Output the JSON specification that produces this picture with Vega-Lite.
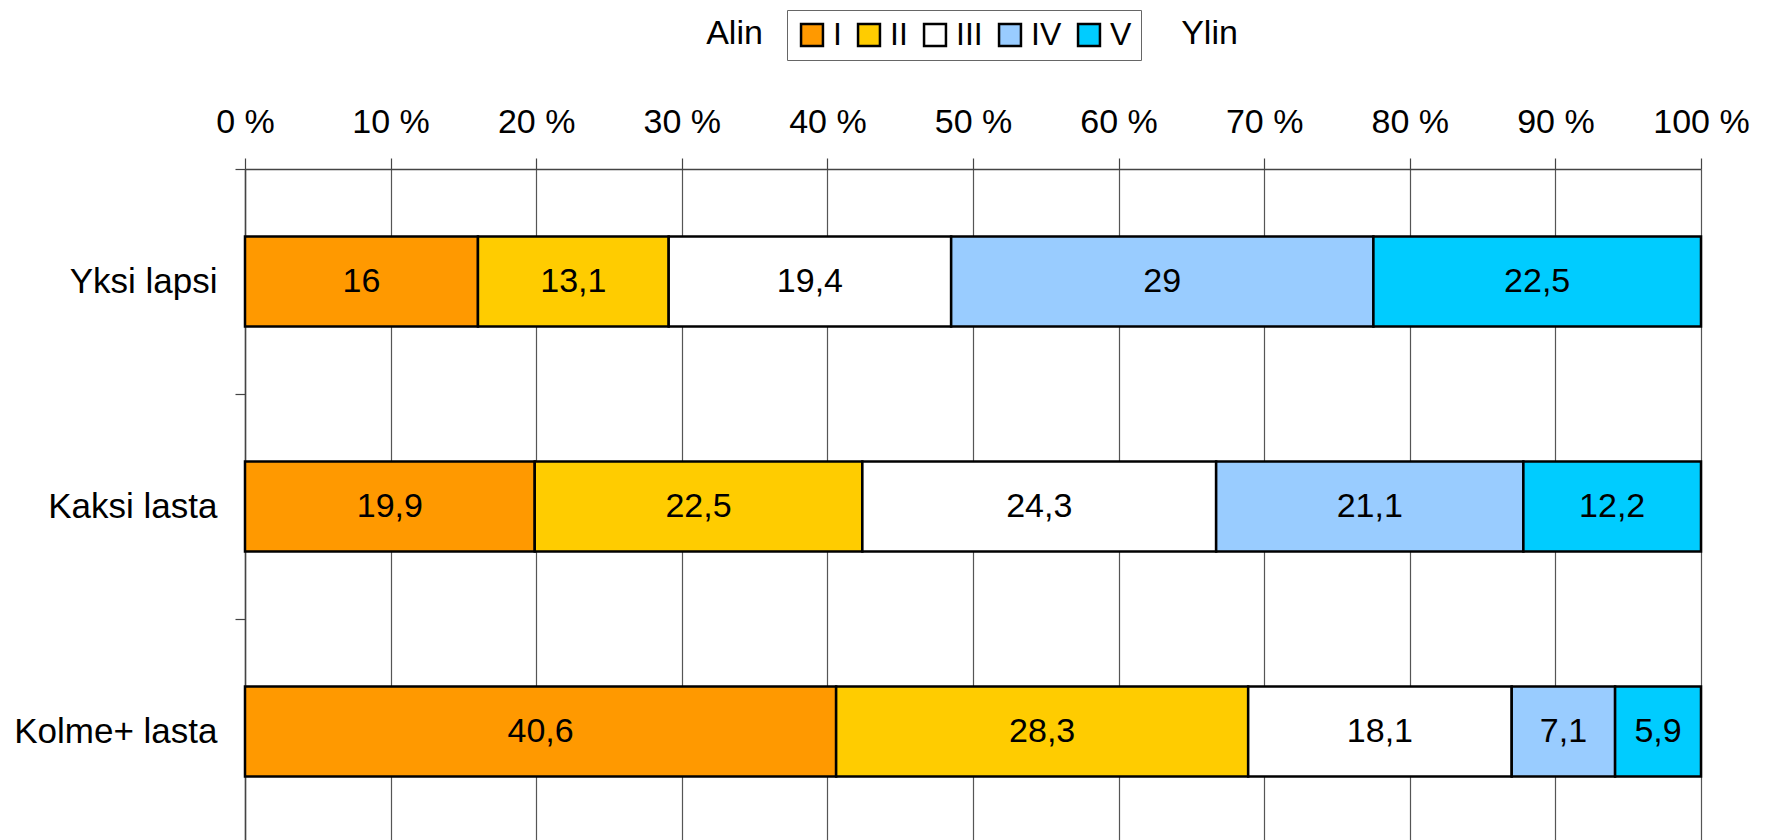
{
  "$schema": "https://vega.github.io/schema/vega-lite/v6.json",
  "width": 1456,
  "height": 675,
  "autosize": {"type": "none"},
  "padding": {"left": 245, "top": 169, "right": 64, "bottom": 0},
  "background": "white",
  "config": {
    "font": "Liberation Sans",
    "view": {"stroke": null},
    "locale": {"number": {"decimal": ",", "thousands": "\u00a0", "grouping": [3], "currency": ["", "\u00a0€"]}}
  },
  "data": {
    "values": [
      {"group": "Yksi lapsi", "klass": "I", "value": 16},
      {"group": "Yksi lapsi", "klass": "II", "value": 13.1},
      {"group": "Yksi lapsi", "klass": "III", "value": 19.4},
      {"group": "Yksi lapsi", "klass": "IV", "value": 29},
      {"group": "Yksi lapsi", "klass": "V", "value": 22.5},
      {"group": "Kaksi lasta", "klass": "I", "value": 19.9},
      {"group": "Kaksi lasta", "klass": "II", "value": 22.5},
      {"group": "Kaksi lasta", "klass": "III", "value": 24.3},
      {"group": "Kaksi lasta", "klass": "IV", "value": 21.1},
      {"group": "Kaksi lasta", "klass": "V", "value": 12.2},
      {"group": "Kolme+ lasta", "klass": "I", "value": 40.6},
      {"group": "Kolme+ lasta", "klass": "II", "value": 28.3},
      {"group": "Kolme+ lasta", "klass": "III", "value": 18.1},
      {"group": "Kolme+ lasta", "klass": "IV", "value": 7.1},
      {"group": "Kolme+ lasta", "klass": "V", "value": 5.9}
    ]
  },
  "transform": [
    {"stack": "value", "groupby": ["group"], "sort": [{"field": "klass", "order": "ascending"}], "as": ["v0", "v1"]},
    {"calculate": "(datum.v0 + datum.v1) / 2", "as": "mid"}
  ],
  "encoding": {
    "y": {
      "field": "group",
      "type": "nominal",
      "sort": ["Yksi lapsi", "Kaksi lasta", "Kolme+ lasta"],
      "scale": {"paddingInner": 0, "paddingOuter": 0},
      "axis": {
        "orient": "left",
        "title": "Ylin",
        "titleAngle": 0,
        "titleX": 964,
        "titleY": -126,
        "titleAlign": "center",
        "titleBaseline": "alphabetic",
        "titleFontSize": 34,
        "titleFontWeight": "normal",
        "titleColor": "black",
        "titleFont": "Liberation Sans",
        "tickBand": "extent",
        "tickSize": 10,
        "tickColor": "#444",
        "tickWidth": 1.2,
        "domainColor": "#444",
        "domainWidth": 1.5,
        "labelPadding": 18,
        "labelFontSize": 35,
        "labelColor": "black",
        "labelFont": "Liberation Sans",
        "labelBaseline": "middle",
        "labelLimit": 0,
        "grid": false
      }
    }
  },
  "layer": [
    {
      "mark": {"type": "bar", "stroke": "black", "strokeWidth": 2.5, "height": {"band": 0.4}},
      "encoding": {
        "x": {
          "field": "v0",
          "type": "quantitative",
          "scale": {"domain": [0, 100], "nice": false},
          "axis": {
            "orient": "top",
            "values": [0, 10, 20, 30, 40, 50, 60, 70, 80, 90, 100],
            "labelExpr": "datum.value + ' %'",
            "grid": true,
            "gridColor": "#555",
            "gridWidth": 1.2,
            "tickSize": 11,
            "tickColor": "#444",
            "tickWidth": 1.2,
            "domainColor": "#444",
            "domainWidth": 1.5,
            "labelFontSize": 34,
            "labelColor": "black",
            "labelFont": "Liberation Sans",
            "labelBaseline": "alphabetic",
            "labelPadding": 26,
            "labelFlush": false,
            "labelOverlap": false,
            "title": "Alin",
            "titleX": 489,
            "titleY": -126,
            "titleAlign": "center",
            "titleBaseline": "alphabetic",
            "titleFontSize": 34,
            "titleFontWeight": "normal",
            "titleColor": "black",
            "titleFont": "Liberation Sans"
          }
        },
        "x2": {"field": "v1"},
        "color": {
          "field": "klass",
          "type": "nominal",
          "scale": {"domain": ["I", "II", "III", "IV", "V"], "range": ["#FF9900", "#FFCC00", "#FFFFFF", "#99CCFF", "#00CCFF"]},
          "legend": {
            "orient": "none",
            "legendX": 542,
            "legendY": -159,
            "direction": "horizontal",
            "title": null,
            "symbolType": "square",
            "symbolSize": 480,
            "symbolStrokeColor": "black",
            "symbolStrokeWidth": 2.5,
            "symbolOpacity": 1,
            "labelFontSize": 32,
            "labelFont": "Liberation Sans",
            "labelColor": "black",
            "labelOffset": 5,
            "columnPadding": 11,
            "strokeColor": "#666",
            "padding": 9
          }
        }
      }
    },
    {
      "mark": {"type": "text", "fontSize": 34, "font": "Liberation Sans", "color": "black", "align": "center", "baseline": "middle"},
      "encoding": {
        "x": {"field": "mid", "type": "quantitative"},
        "text": {"field": "value", "type": "quantitative", "format": ".1~f"}
      }
    }
  ]
}
